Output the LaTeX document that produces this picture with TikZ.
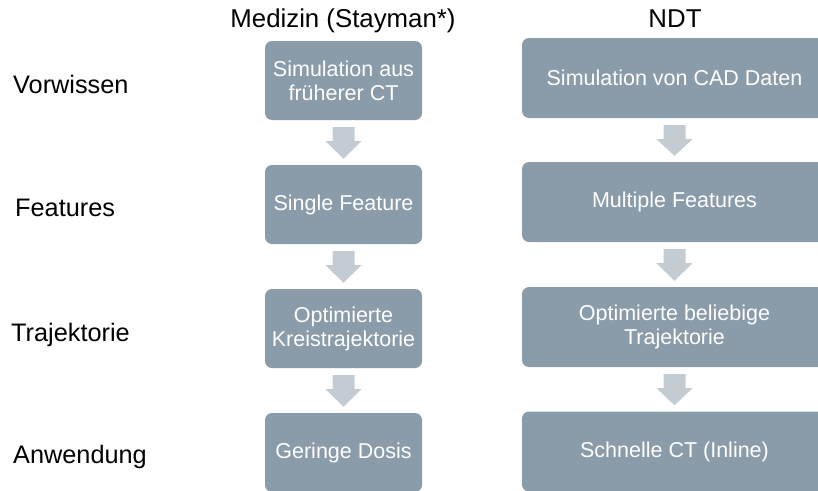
\documentclass[tikz,border=0pt]{standalone}
\usepackage{fontspec}
\setmainfont{Liberation Sans}
\usetikzlibrary{calc}
\definecolor{boxgray}{HTML}{8A9BA9}
\definecolor{arrowgray}{HTML}{C4CCD3}
\tikzset{
  stage/.style={fill=boxgray, rounded corners=7pt, text=white, align=center,
    inner sep=0pt, font=\fontsize{21.5}{24}\selectfont},
  medbox/.style={stage, minimum width=157pt, minimum height=79pt},
  ndtbox/.style={stage, minimum width=305pt, minimum height=80pt},
  rowlabel/.style={anchor=base west, inner sep=0pt, font=\fontsize{25.3}{29}\selectfont},
  colhead/.style={anchor=base, inner sep=0pt, font=\fontsize{25.8}{29}\selectfont},
  flowfill/.style={fill=arrowgray}
}
% block arrow from the bottom of one box to the top of the next
\newcommand\flowarrow[2]{%
  \fill[flowfill] let \p1=(#1.south), \p2=(#2.north) in
    ({\x1-11pt},{\y1-7pt}) -- ({\x1+11pt},{\y1-7pt}) -- ({\x1+11pt},{\y1-21pt})
    -- ({\x1+18pt},{\y1-21pt}) -- ({\x1},{\y2+6pt}) -- ({\x1-18pt},{\y1-21pt})
    -- ({\x1-11pt},{\y1-21pt}) -- cycle;}
\begin{document}
\begin{tikzpicture}[x=1pt, y=-1pt]
  \useasboundingbox (0,0) rectangle (818,490);
  \clip (0,0) rectangle (818,490);

  % column headings
  \node[colhead] (hmed) at (343,27) {Medizin (Stayman*)};
  \node[colhead] (hndt) at (675,27) {NDT};

  % row labels
  \node[rowlabel] (rvor) at (13,93) {Vorwissen};
  \node[rowlabel] (rfea) at (15,216) {Features};
  \node[rowlabel] (rtra) at (11,341) {Trajektorie};
  \node[rowlabel] (ranw) at (13,463) {Anwendung};

  % medicine column
  \node[medbox] (m1) at (343.5,80.5) {Simulation aus\\früherer CT};
  \node[medbox] (m2) at (343.5,204.5) {Single Feature};
  \node[medbox] (m3) at (343.5,328.5) {Optimierte\\Kreistrajektorie};
  \node[medbox] (m4) at (343.5,452.5) {Geringe Dosis};

  % NDT column
  \node[ndtbox] (n1) at (674.5,78) {Simulation von CAD Daten};
  \node[ndtbox] (n2) at (674.5,202) {Multiple Features};
  \node[ndtbox] (n3) at (674.5,327) {Optimierte beliebige\\Trajektorie};
  \node[ndtbox] (n4) at (674.5,451.5) {Schnelle CT (Inline)};

  % arrows between the stages
  \flowarrow{m1}{m2}
  \flowarrow{m2}{m3}
  \flowarrow{m3}{m4}
  \flowarrow{n1}{n2}
  \flowarrow{n2}{n3}
  \flowarrow{n3}{n4}
\end{tikzpicture}
\end{document}
